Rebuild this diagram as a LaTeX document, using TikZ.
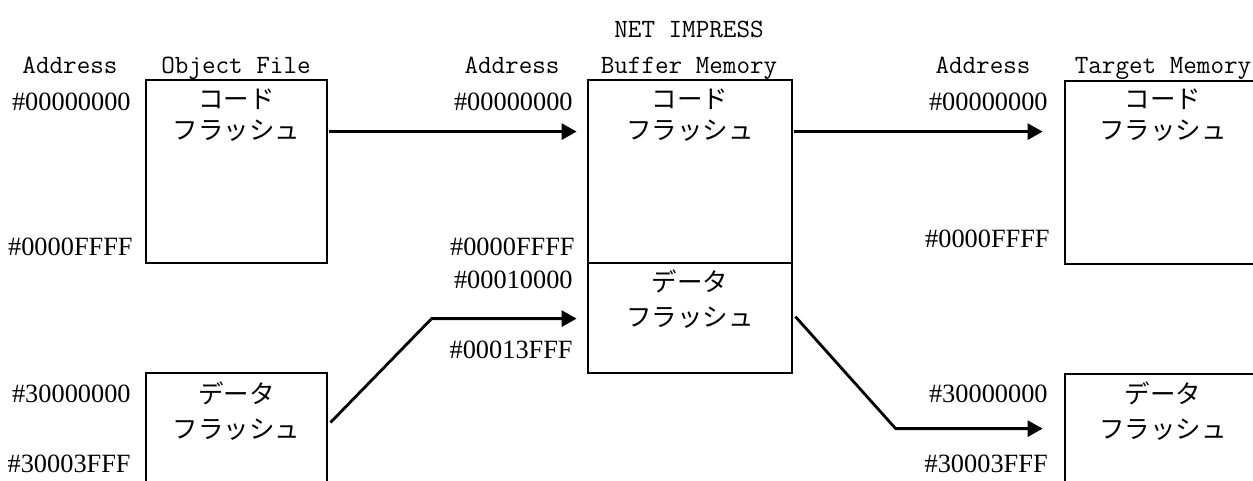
\documentclass[tikz,border=0pt]{standalone}
\usepackage{fontspec}
\newfontfamily\jpfont{Noto Sans CJK JP}
\newfontfamily\hexfont{Liberation Serif}
\usetikzlibrary{positioning,calc,arrows.meta}

\begin{document}
\begin{tikzpicture}[x=0.02cm,y=-0.02cm,
                    membox/.style={draw,line width=1.6pt,inner sep=0pt},
                    jptext/.style={font=\jpfont\fontsize{14.5}{17}\selectfont,anchor=base,inner sep=0pt},
                    head/.style={font=\ttfamily\fontsize{15}{17}\selectfont,anchor=base,inner sep=0pt},
                    addr/.style={font=\hexfont\fontsize{15}{17}\selectfont,anchor=base east,inner sep=0pt},
                    flow/.style={-{Triangle[length=0.3cm,width=0.32cm]},line width=1.6pt}]

  \clip (0,0) rectangle (1253,480);

  % memory blocks
  \node[membox,minimum width=3.62cm,minimum height=3.66cm] (ofcode)  at (236.5,171.5) {};
  \node[membox,minimum width=3.62cm,minimum height=3.66cm] (ofdata)  at (236.5,464.5) {};
  \node[membox,minimum width=4.08cm,minimum height=3.66cm] (bufcode) at (690,171.5)   {};
  \node[membox,minimum width=4.08cm,minimum height=2.2cm]  (bufdata) at (690,318)     {};
  \node[membox,minimum width=3.92cm,minimum height=3.66cm] (tgtcode) at (1163,172.5)  {};
  \node[membox,minimum width=3.92cm,minimum height=3.66cm] (tgtdata) at (1163,465.5)  {};

  % column heads
  \node[head] (ofaddr)  at (70,73)   {Address};
  \node[head] (ofname)  at (236,73)  {Object File};
  \node[head] (bufaddr) at (512,73)  {Address};
  \node[head] (bufname) at (689,73)  {Buffer Memory};
  \node[head] (bufnet)  at (689,37)  {NET IMPRESS};
  \node[head] (tgtaddr) at (983,73)  {Address};
  \node[head] (tgtname) at (1163,73) {Target Memory};

  % addresses
  \node[addr] (ofa1)  at (131,110)  {\#00000000};
  \node[addr] (ofa2)  at (133,255)  {\#0000FFFF};
  \node[addr] (ofa3)  at (131,402)  {\#30000000};
  \node[addr] (ofa4)  at (131,472)  {\#30003FFF};
  \node[addr] (bufa1) at (573,110)  {\#00000000};
  \node[addr] (bufa2) at (575,255)  {\#0000FFFF};
  \node[addr] (bufa3) at (573,288)  {\#00010000};
  \node[addr] (bufa4) at (573,358)  {\#00013FFF};
  \node[addr] (tgta1) at (1048,110) {\#00000000};
  \node[addr] (tgta2) at (1050,247) {\#0000FFFF};
  \node[addr] (tgta3) at (1048,402) {\#30000000};
  \node[addr] (tgta4) at (1048,472) {\#30003FFF};

  % block contents
  \node[jptext] (ofcode1)  at (236.5,108) {コード};
  \node[jptext] (ofcode2)  at ([yshift=-0.64cm]ofcode1.base) {フラッシュ};
  \node[jptext] (ofdata1)  at (236.5,403) {データ};
  \node[jptext] (ofdata2)  at ([yshift=-0.72cm]ofdata1.base) {フラッシュ};
  \node[jptext] (bufcode1) at (690,108)   {コード};
  \node[jptext] (bufcode2) at ([yshift=-0.64cm]bufcode1.base) {フラッシュ};
  \node[jptext] (bufdata1) at (690,291)   {データ};
  \node[jptext] (bufdata2) at ([yshift=-0.72cm]bufdata1.base) {フラッシュ};
  \node[jptext] (tgtcode1) at (1163,108)  {コード};
  \node[jptext] (tgtcode2) at ([yshift=-0.64cm]tgtcode1.base) {フラッシュ};
  \node[jptext] (tgtdata1) at (1163,403)  {データ};
  \node[jptext] (tgtdata2) at ([yshift=-0.72cm]tgtdata1.base) {フラッシュ};

  % transfers
  \draw[flow] ($(ofcode.north east)+(1,53)$) -- ($(bufcode.north west)+(-10,53)$);
  \draw[flow] ($(bufcode.north east)+(1,53)$) -- ($(tgtcode.north west)+(-21,52)$);
  \draw[flow] ($(ofdata.north east)+(2,51)$) -- ($(bufdata.north west)+(-155,57)$)
              -- ($(bufdata.north west)+(-10,57)$);
  \draw[flow] ($(bufdata.north east)+(2,55)$) -- ($(tgtdata.north west)+(-168,56)$)
              -- ($(tgtdata.north west)+(-21,56)$);
\end{tikzpicture}
\end{document}
